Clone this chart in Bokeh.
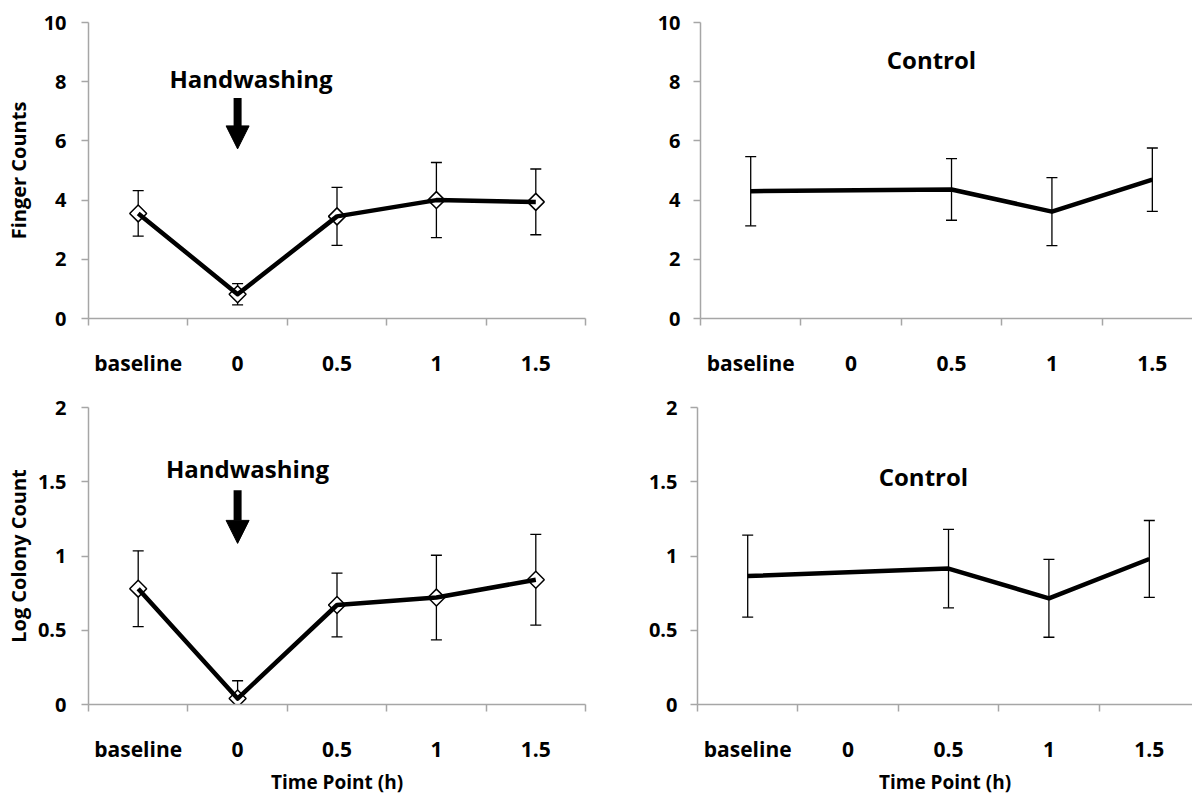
import numpy as np
from bokeh.plotting import figure
from bokeh.models import (ColumnDataSource, Whisker, TeeHead, FixedTicker, LinearAxis,
                          Range1d, NumeralTickFormatter, Arrow, NormalHead)
from bokeh.layouts import column, row
from bokeh.core.properties import value
from bokeh.embed import file_html
from bokeh.resources import INLINE

nan = float("nan")

# ---- data ----
time_labels = ["baseline", "0", "0.5", "1", "1.5"]

hw_finger_mean = [3.55, 0.82, 3.45, 4.00, 3.94]
hw_finger_err = [0.77, 0.36, 0.98, 1.27, 1.11]

ctrl_finger_mean = [4.30, nan, 4.36, 3.61, 4.69]
ctrl_finger_err = [1.17, nan, 1.04, 1.15, 1.07]

hw_log_mean = [0.78, 0.04, 0.67, 0.72, 0.84]
hw_log_err = [0.255, 0.12, 0.215, 0.285, 0.305]

ctrl_log_mean = [0.865, nan, 0.915, 0.715, 0.98]
ctrl_log_err = [0.276, nan, 0.264, 0.262, 0.259]

finger_ticks = [0, 2, 4, 6, 8, 10]
log_ticks = [0, 0.5, 1, 1.5, 2]

FONT = "Open Sans"
AXIS_COLOR = "#A6A6A6"

xpos = [i + 0.5 for i in range(len(time_labels))]


def panel(width, height, bl, br, bt, bb, x_end, y_end, yticks, ylab_standoff,
          ytitle=None, ytitle_standoff=5, xtitle=None):
    p = figure(width=width, height=height, x_range=Range1d(0, x_end),
               y_range=Range1d(0, y_end), output_backend="svg",
               toolbar_location=None, x_axis_type=None, y_axis_type=None,
               min_border_left=bl, min_border_right=br, min_border_top=bt,
               min_border_bottom=bb)
    p.outline_line_color = None
    p.background_fill_color = "white"
    p.border_fill_color = "white"

    xaxis = LinearAxis(
        ticker=FixedTicker(ticks=xpos, minor_ticks=list(range(len(time_labels) + 1))),
        major_label_overrides={x: l for x, l in zip(xpos, time_labels)})
    xaxis.axis_line_color = AXIS_COLOR
    xaxis.axis_line_width = 1.5
    xaxis.major_tick_line_color = None
    xaxis.major_tick_in = 0
    xaxis.major_tick_out = 0
    xaxis.minor_tick_in = 0
    xaxis.minor_tick_out = 7
    xaxis.minor_tick_line_color = AXIS_COLOR
    xaxis.minor_tick_line_width = 1.5
    xaxis.major_label_standoff = 23
    xaxis.major_label_text_font = FONT
    xaxis.major_label_text_font_style = "bold"
    xaxis.major_label_text_font_size = "21px"
    xaxis.major_label_text_color = "black"
    if xtitle:
        xaxis.axis_label = xtitle
        xaxis.axis_label_text_font = FONT
        xaxis.axis_label_text_font_style = "bold"
        xaxis.axis_label_text_font_size = "19px"
        xaxis.axis_label_text_color = "black"
        xaxis.axis_label_standoff = 3
    p.add_layout(xaxis, "below")

    yaxis = LinearAxis(ticker=FixedTicker(ticks=yticks),
                       formatter=NumeralTickFormatter(format="0.[0]"))
    yaxis.axis_line_color = AXIS_COLOR
    yaxis.axis_line_width = 1.5
    yaxis.major_tick_line_color = AXIS_COLOR
    yaxis.major_tick_line_width = 1.5
    yaxis.major_tick_in = 0
    yaxis.major_tick_out = 7
    yaxis.minor_tick_line_color = None
    yaxis.major_label_standoff = ylab_standoff
    yaxis.major_label_text_font = FONT
    yaxis.major_label_text_font_style = "bold"
    yaxis.major_label_text_font_size = "20px"
    yaxis.major_label_text_color = "black"
    if ytitle:
        yaxis.axis_label = ytitle
        yaxis.axis_label_text_font = FONT
        yaxis.axis_label_text_font_style = "bold"
        yaxis.axis_label_text_font_size = "20px"
        yaxis.axis_label_text_color = "black"
        yaxis.axis_label_standoff = ytitle_standoff
    p.add_layout(yaxis, "left")
    return p


def add_series(p, mean, err, markers):
    m = np.array(mean, dtype=float)
    e = np.array(err, dtype=float)
    x = np.array(xpos)
    ok = ~np.isnan(m)
    src = ColumnDataSource(dict(x=x[ok], y=m[ok], upper=(m + e)[ok], lower=(m - e)[ok]))
    w = Whisker(source=src, base="x", upper="upper", lower="lower", dimension="height",
                line_color="black", line_width=1.3, level="underlay",
                upper_head=TeeHead(size=11, line_color="black", line_width=1.3),
                lower_head=TeeHead(size=11, line_color="black", line_width=1.3))
    p.add_layout(w)
    if markers:
        p.scatter("x", "y", source=src, marker="square", angle=np.pi / 4, size=12,
                  fill_color="white", line_color="black", line_width=1.5)
    p.line("x", "y", source=src, line_color="black", line_width=4.5, line_join="round")


def add_text(p, x, y, txt):
    p.text(x=[x], y=[y], text=[txt], text_font=value(FONT), text_font_style="bold",
           text_font_size="24px", text_align="center", text_baseline="middle",
           text_color="black")


def add_arrow(p, x, y0, y1):
    p.add_layout(Arrow(end=NormalHead(size=23, fill_color="black", line_color="black"),
                       x_start=x, y_start=y0, x_end=x, y_end=y1,
                       line_color="black", line_width=8))


# top-left: handwashing, finger counts
p1 = panel(600, 388, 88, 15, 20, 68, 5, 10, finger_ticks, 15,
           ytitle="Finger Counts", ytitle_standoff=9)
add_series(p1, hw_finger_mean, hw_finger_err, True)
add_text(p1, 1.635, 8.11, "Handwashing")
add_arrow(p1, 1.5, 7.45, 5.73)

# top-right: control, finger counts
p2 = panel(592, 388, 100, 0, 22, 70, 4.90, 10, finger_ticks, 13)
add_series(p2, ctrl_finger_mean, ctrl_finger_err, False)
add_text(p2, 2.30, 8.74, "Control")

# bottom-left: handwashing, log colony count
p3 = panel(600, 410, 88, 15, 19, 93, 5, 2, log_ticks, 15,
           ytitle="Log Colony Count", ytitle_standoff=3, xtitle="Time Point (h)")
add_series(p3, hw_log_mean, hw_log_err, True)
add_text(p3, 1.60, 1.589, "Handwashing")
add_arrow(p3, 1.5, 1.443, 1.085)

# bottom-right: control, log colony count
p4 = panel(592, 410, 97, 0, 13, 94, 4.93, 2, log_ticks, 13, xtitle="Time Point (h)")
add_series(p4, ctrl_log_mean, ctrl_log_err, False)
add_text(p4, 2.25, 1.533, "Control")

layout = column(row(p1, p2), row(p3, p4))
open("out.html", "w").write(file_html(layout, INLINE))
